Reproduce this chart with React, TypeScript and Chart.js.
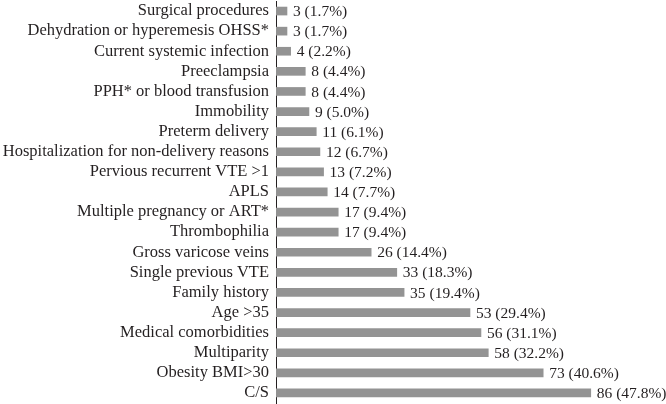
import React, { useEffect, useRef } from "react";
import { Chart, registerables } from "chart.js";

Chart.register(...registerables);

const categories = [
  "Surgical procedures",
  "Dehydration or hyperemesis OHSS*",
  "Current systemic infection",
  "Preeclampsia",
  "PPH* or blood transfusion",
  "Immobility",
  "Preterm delivery",
  "Hospitalization for non-delivery reasons",
  "Pervious recurrent VTE >1",
  "APLS",
  "Multiple pregnancy or ART*",
  "Thrombophilia",
  "Gross varicose veins",
  "Single previous VTE",
  "Family history",
  "Age >35",
  "Medical comorbidities",
  "Multiparity",
  "Obesity BMI>30",
  "C/S",
];

const counts = [3, 3, 4, 8, 8, 9, 11, 12, 13, 14, 17, 17, 26, 33, 35, 53, 56, 58, 73, 86];

const percents = [
  "1.7", "1.7", "2.2", "4.4", "4.4", "5.0", "6.1", "6.7", "7.2", "7.7",
  "9.4", "9.4", "14.4", "18.3", "19.4", "29.4", "31.1", "32.2", "40.6", "47.8",
];

const FONT = "'Liberation Serif', 'Times New Roman', serif";
const TEXT_COLOR = "#231f20";

const valueLabelPlugin = {
  id: "valueLabels",
  afterDatasetsDraw(chart: any) {
    const ctx = chart.ctx;
    const meta = chart.getDatasetMeta(0);
    ctx.save();
    ctx.font = `15.5px ${FONT}`;
    ctx.fillStyle = TEXT_COLOR;
    ctx.textAlign = "left";
    ctx.textBaseline = "middle";
    meta.data.forEach((bar: any, i: number) => {
      ctx.fillText(`${counts[i]} (${percents[i]}%)`, bar.x + 6, bar.y + 1);
    });
    ctx.restore();
  },
};

export default function App() {
  const ref = useRef<HTMLCanvasElement | null>(null);

  useEffect(() => {
    if (!ref.current) return;
    const chart = new Chart(ref.current, {
      type: "bar",
      data: {
        labels: categories,
        datasets: [
          {
            data: counts,
            backgroundColor: "#939393",
            borderWidth: 0,
            barThickness: 8,
          },
        ],
      },
      options: {
        indexAxis: "y",
        animation: false,
        responsive: false,
        maintainAspectRatio: false,
        layout: { padding: { top: 1, bottom: 1, left: 0, right: 24 } },
        plugins: {
          legend: { display: false },
          tooltip: { enabled: false },
        },
        scales: {
          x: {
            display: false,
            min: 0,
            max: 100,
          },
          y: {
            afterFit: (s: any) => {
              s.width = 276;
              s.paddingTop = 0;
              s.paddingBottom = 0;
            },
            grid: { display: false, drawTicks: false },
            border: { display: true, color: "#231f20", width: 1 },
            ticks: {
              autoSkip: false,
              color: TEXT_COLOR,
              font: { family: FONT, size: 16.5 },
              padding: 7,
            },
          },
        },
      },
      plugins: [valueLabelPlugin],
    });
    return () => chart.destroy();
  }, []);

  return (
    <div style={{ position: "fixed", left: 0, top: 0, width: 666, height: 404, background: "#fff" }}>
      <canvas ref={ref} width={666} height={404} style={{ display: "block" }} />
    </div>
  );
}
